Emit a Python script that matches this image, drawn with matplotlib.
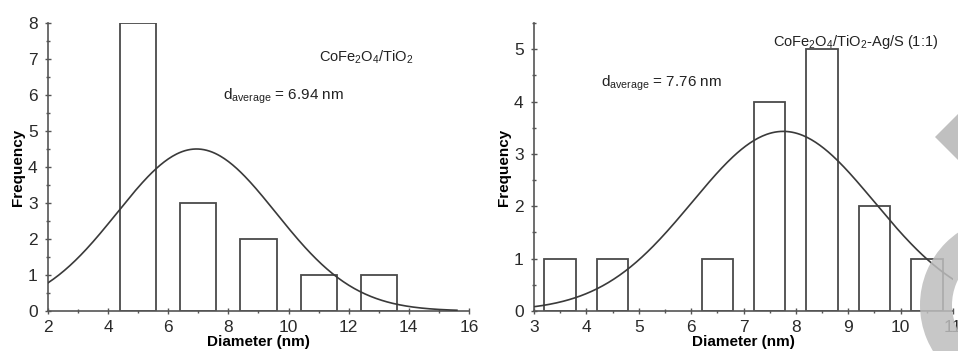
import numpy as np
import matplotlib
matplotlib.use("Agg")
import matplotlib.pyplot as plt
from matplotlib.patches import Polygon, Wedge
from matplotlib.transforms import IdentityTransform
from matplotlib.ticker import MultipleLocator

plt.rcParams['font.family'] = ['Liberation Sans', 'DejaVu Sans']
plt.rcParams['mathtext.fontset'] = 'custom'
plt.rcParams['mathtext.rm'] = 'Liberation Sans'
plt.rcParams['mathtext.it'] = 'Liberation Sans'
plt.rcParams['mathtext.default'] = 'rm'

# histogram data - CoFe2O4/TiO2
d1 = [5, 7, 9, 11, 13]
n1 = [8, 3, 2, 1, 1]
w1 = 1.2
mean1, sigma1, amp1 = 6.94, 2.64, 4.5

# histogram data - CoFe2O4/TiO2-Ag/S (1:1)
d2 = [3.5, 4.5, 6.5, 7.5, 8.5, 9.5, 10.5]
n2 = [1, 1, 1, 4, 5, 2, 1]
w2 = 0.6
mean2, sigma2, amp2 = 7.76, 1.74, 3.43

edge = '#4a4a4a'
lw = 1.3

fig = plt.figure(figsize=(9.58, 3.51), dpi=100)
ax1 = fig.add_axes([0.0501, 0.114, 0.4394, 0.8205])
ax2 = fig.add_axes([0.5574, 0.114, 0.4374, 0.8205])


def gauss(x, mu, s, a):
    return a * np.exp(-(x - mu) ** 2 / (2 * s ** 2))


def style(ax):
    for s in ['top', 'right']:
        ax.spines[s].set_visible(False)
    for s in ['left', 'bottom']:
        ax.spines[s].set_color('#555555')
        ax.spines[s].set_linewidth(1.2)
    ax.tick_params(which='major', direction='inout', length=5, width=1,
                   color='#555555', labelsize=12.5, labelcolor='#2a2a2a')
    ax.tick_params(which='minor', direction='inout', length=3, width=1,
                   color='#555555')
    ax.tick_params(axis='x', pad=4)
    ax.tick_params(axis='y', pad=5)


ax1.bar(d1, n1, width=w1, facecolor='white', edgecolor=edge, linewidth=lw, zorder=2)
x1 = np.linspace(2, 15.6, 300)
ax1.plot(x1, gauss(x1, mean1, sigma1, amp1), color='#3a3a3a', lw=1.2, zorder=3)
ax1.set_xlim(2, 16)
ax1.set_ylim(0, 8)
ax1.xaxis.set_major_locator(MultipleLocator(2))
ax1.xaxis.set_minor_locator(MultipleLocator(1))
ax1.yaxis.set_major_locator(MultipleLocator(1))
ax1.yaxis.set_minor_locator(MultipleLocator(0.5))
style(ax1)
ax1.set_xlabel('Diameter (nm)', fontsize=11, fontweight='bold', labelpad=0)
ax1.set_ylabel('Frequency', fontsize=11, fontweight='bold', labelpad=2)
ax1.text(0.755, 0.88, r'CoFe$_2$O$_4$/TiO$_2$', transform=ax1.transAxes,
         fontsize=10.5, ha='center', va='center', color='#222222')
ax1.text(0.415, 0.745, r'd$_{average}$ = %.2f nm' % mean1, transform=ax1.transAxes,
         fontsize=11, ha='left', va='center', color='#222222')

ax2.bar(d2, n2, width=w2, facecolor='white', edgecolor=edge, linewidth=lw, zorder=2)
x2 = np.linspace(3, 11, 300)
ax2.plot(x2, gauss(x2, mean2, sigma2, amp2), color='#3a3a3a', lw=1.2, zorder=3)
ax2.set_xlim(3, 11)
ax2.set_ylim(0, 5.5)
ax2.xaxis.set_major_locator(MultipleLocator(1))
ax2.xaxis.set_minor_locator(MultipleLocator(0.5))
ax2.yaxis.set_major_locator(MultipleLocator(1))
ax2.yaxis.set_minor_locator(MultipleLocator(0.5))
style(ax2)
ax2.set_xlabel('Diameter (nm)', fontsize=11, fontweight='bold', labelpad=0)
ax2.set_ylabel('Frequency', fontsize=11, fontweight='bold', labelpad=2)
ax2.text(0.965, 0.935, r'CoFe$_2$O$_4$/TiO$_2$-Ag/S (1:1)', transform=ax2.transAxes,
         fontsize=10.5, ha='right', va='center', color='#222222')
ax2.text(0.16, 0.79, r'd$_{average}$ = %.2f nm' % mean2, transform=ax2.transAxes,
         fontsize=11, ha='left', va='center', color='#222222')

# grey decoration shapes on the right edge (pixel coordinates)
H = 351
diamond = Polygon([(935, H - 137), (960, H - 112), (985, H - 137), (960, H - 162)],
                  closed=True, transform=IdentityTransform(), facecolor='#bdbdbd',
                  edgecolor='none', alpha=0.95, zorder=10)
fig.patches.append(diamond)
ring = Wedge((1008, H - 305), 88, 0, 360, width=32,
             transform=IdentityTransform(), facecolor='#bdbdbd', edgecolor='none',
             alpha=0.85, zorder=10)
fig.patches.append(ring)

fig.savefig('out.png', dpi=100)
